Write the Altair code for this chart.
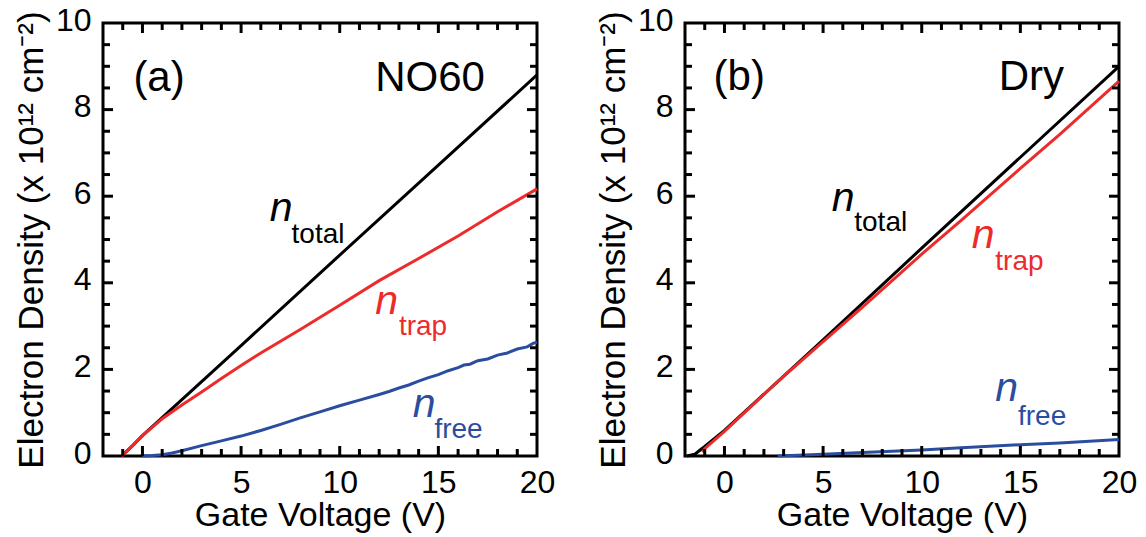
import altair as alt
import pandas as pd

FONT = "Liberation Sans"
BLACK = "#000000"
RED = "#EE2B2B"
BLUE = "#2B4DA0"

# ---------------- Panel (a): NO60 ----------------
a_total_v = [-1.05, -0.5, 0, 5, 10, 15, 20]
a_total_n = [0.0, 0.24, 0.47, 2.55, 4.64, 6.72, 8.80]

a_trap_v = [-1.05, -0.5, 0, 1, 2, 3, 4, 5, 6, 8, 10, 12, 14, 16, 18, 20]
a_trap_n = [0.0, 0.24, 0.47, 0.86, 1.18, 1.48, 1.79, 2.09, 2.38, 2.92, 3.48, 4.05, 4.56, 5.08, 5.64, 6.17]

a_free_v = [0, 0.5, 1, 1.5, 2, 3, 4, 5, 6, 7, 8, 9, 10, 11, 12, 12.5, 13, 13.5, 14, 14.5, 15,
            15.5, 16, 16.3, 16.6, 17, 17.5, 18, 18.5, 19, 19.5, 19.8, 20]
a_free_n = [0.0, 0.01, 0.03, 0.07, 0.12, 0.24, 0.35, 0.46, 0.59, 0.73, 0.88, 1.02, 1.16, 1.29, 1.42,
            1.49, 1.57, 1.64, 1.73, 1.81, 1.88, 1.97, 2.04, 2.10, 2.12, 2.20, 2.24, 2.33, 2.38,
            2.47, 2.52, 2.60, 2.63]

# ---------------- Panel (b): Dry ----------------
b_total_v = [-1.9, -1.5, -1.2, -1.0, 0, 2.7, 5, 10, 15, 20]
b_total_n = [0.0, 0.04, 0.15, 0.22, 0.59, 1.72, 2.68, 4.80, 6.90, 9.00]

b_trap_v = [-1.1, -1.0, 0, 2.7, 5, 7, 10, 12, 15, 17, 20]
b_trap_n = [0.08, 0.17, 0.57, 1.72, 2.64, 3.44, 4.66, 5.44, 6.64, 7.43, 8.66]

b_free_v = [2.7, 5, 7, 10, 12, 15, 17, 20]
b_free_n = [0.0, 0.04, 0.08, 0.14, 0.19, 0.26, 0.30, 0.38]

# ---------------- Axis ticks ----------------
x_major = [0, 5, 10, 15]
x_minor = [-1, 1, 2, 3, 4, 6, 7, 8, 9, 11, 12, 13, 14, 16, 17, 18, 19]
y_major = [2, 4, 6, 8]
y_minor = [0.5, 1, 1.5, 2.5, 3, 3.5, 4.5, 5, 5.5, 6.5, 7, 7.5, 8.5, 9, 9.5]
x_labels = [0, 5, 10, 15, 20]
y_labels = [0, 2, 4, 6, 8, 10]

# ---------------- Annotations ----------------
# (text, v, n, colour)
a_big = [("(a)", -0.46, 8.42, BLACK), ("NO60", 11.8, 8.42, BLACK)]
a_n = [("n", 6.45, 5.43, BLACK), ("n", 11.8, 3.27, RED), ("n", 13.7, 0.90, BLUE)]
a_sub = [("total", 7.56, 4.92, BLACK), ("trap", 13.0, 2.79, RED), ("free", 14.8, 0.41, BLUE)]

b_big = [("(b)", -0.55, 8.45, BLACK), ("Dry", 13.9, 8.45, BLACK)]
b_n = [("n", 5.44, 5.66, BLACK), ("n", 12.53, 4.80, RED), ("n", 13.73, 1.26, BLUE)]
b_sub = [("total", 6.58, 5.19, BLACK), ("trap", 13.73, 4.29, RED), ("free", 14.88, 0.71, BLUE)]

W, H = 434, 433
TL_MAJ, TL_MIN = 10, 7

xscale = alt.Scale(domain=[-2, 20], nice=False, zero=False)
yscale = alt.Scale(domain=[0, 10], nice=False, zero=False)
AX_STYLE = dict(
    labelFont=FONT, titleFont=FONT, labelFontSize=32,
    labelColor=BLACK, titleColor=BLACK, titleFontWeight="normal",
    grid=False, ticks=False, domain=False, labelFlush=False, labelOverlap=False,
)
xaxis = alt.Axis(values=x_labels, title="Gate Voltage (V)", labelPadding=11, titlePadding=0,
                 titleFontSize=34, **AX_STYLE)
yaxis = alt.Axis(values=y_labels, title="Electron Density (x 10¹² cm⁻²)", labelPadding=12,
                 titlePadding=6, labelOffset=-3, titleFontSize=35, **AX_STYLE)


def X(field="v"):
    return alt.X(f"{field}:Q", scale=xscale, axis=xaxis)


def Y(field="n"):
    return alt.Y(f"{field}:Q", scale=yscale, axis=yaxis)


def line(vs, ns, color):
    df = pd.DataFrame({"v": vs, "n": ns})
    return alt.Chart(df).mark_line(color=color, strokeWidth=3).encode(x=X(), y=Y())


def tick_layers():
    layers = []
    for vals, ln in ((x_major, TL_MAJ), (x_minor, TL_MIN)):
        d = pd.DataFrame({"v": vals})
        base = alt.Chart(d).mark_rule(color=BLACK, strokeWidth=3)
        layers.append(base.encode(x=X(), y=alt.value(H), y2=alt.value(H - ln)))
        layers.append(base.encode(x=X(), y=alt.value(0), y2=alt.value(ln)))
    for vals, ln in ((y_major, TL_MAJ), (y_minor, TL_MIN)):
        d = pd.DataFrame({"n": vals})
        base = alt.Chart(d).mark_rule(color=BLACK, strokeWidth=3)
        layers.append(base.encode(y=Y(), x=alt.value(0), x2=alt.value(ln)))
        layers.append(base.encode(y=Y(), x=alt.value(W), x2=alt.value(W - ln)))
    return layers


def text_layer(items, size, style="normal"):
    df = pd.DataFrame(items, columns=["t", "v", "n", "c"])
    return alt.Chart(df).mark_text(
        align="left", baseline="alphabetic", font=FONT, fontSize=size, fontStyle=style
    ).encode(x=X(), y=Y(), text="t:N", color=alt.Color("c:N", scale=None))


def panel(total, trap, free, big, ns, subs):
    layers = [
        line(total[0], total[1], BLACK),
        line(trap[0], trap[1], RED),
        line(free[0], free[1], BLUE),
    ] + tick_layers() + [
        text_layer(big, 42),
        text_layer(ns, 41, "italic"),
        text_layer(subs, 28),
    ]
    return alt.layer(*layers).properties(width=W, height=H)


pa = panel((a_total_v, a_total_n), (a_trap_v, a_trap_n), (a_free_v, a_free_n), a_big, a_n, a_sub)
pb = panel((b_total_v, b_total_n), (b_trap_v, b_trap_n), (b_free_v, b_free_n), b_big, b_n, b_sub)

chart = (
    alt.hconcat(pa, pb, spacing=37)
    .properties(padding={"left": 12, "top": 2, "right": 5, "bottom": 2}, background="white")
    .configure_view(stroke=BLACK, strokeWidth=3)
)

chart.save("out.html", embed_options={"renderer": "svg", "actions": False})
